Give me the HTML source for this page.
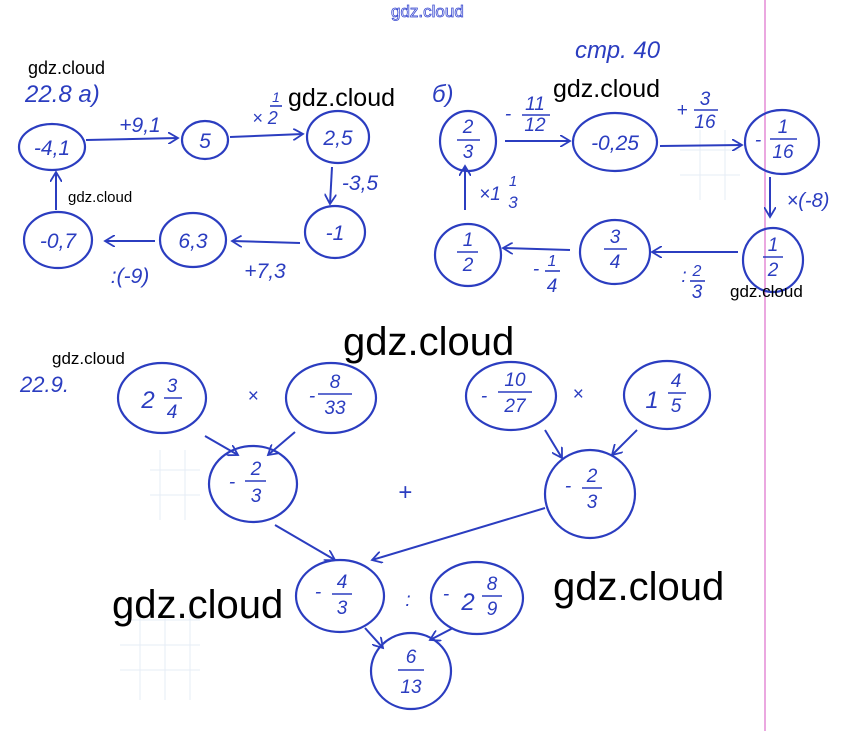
<!DOCTYPE html>
<html><head><meta charset="utf-8"><style>
html,body{margin:0;padding:0;background:#fff;}
svg{display:block}
.h{font-family:"Liberation Sans",sans-serif;font-style:italic;fill:#2b3dc0;}
.w{font-family:"Liberation Sans",sans-serif;fill:#000;}
</style></head><body>
<svg width="856" height="731" viewBox="0 0 856 731" xmlns="http://www.w3.org/2000/svg">
<defs><marker id="a" markerWidth="12" markerHeight="12" refX="10" refY="6" orient="auto" markerUnits="userSpaceOnUse"><path d="M0,0 L10,6 L0,12" fill="none" stroke="#2b3dc0" stroke-width="1.8"/></marker></defs>
<rect width="856" height="731" fill="#fff"/>
<g stroke="#e6ecf6" stroke-width="1" fill="none">
<path d="M120 620 H200 M120 645 H200 M120 670 H200 M140 600 V700 M165 600 V700 M190 600 V700"/>
<path d="M680 150 H740 M680 175 H740 M700 130 V200 M725 130 V200"/>
<path d="M150 470 H200 M150 495 H200 M160 450 V520 M185 450 V520"/>
</g>
<line x1="765" y1="0" x2="765" y2="731" stroke="#e07ad0" stroke-width="1.3"/>
<text x="391" y="17" class="w" font-size="17" style="fill:none" stroke="#3a4ad0" stroke-width="0.8">gdz.cloud</text>
<g class="h" font-size="24">
<text x="575" y="58">стр. 40</text>
<text x="25" y="102">22.8  a)</text>
<text x="432" y="102">б)</text>
<text x="20" y="392" font-size="22">22.9.</text>
</g>
<g fill="none" stroke="#2b3dc0" stroke-width="2.2">
<ellipse cx="52" cy="147" rx="33" ry="23"/>
<ellipse cx="205" cy="140" rx="23" ry="19"/>
<ellipse cx="338" cy="137" rx="31" ry="26"/>
<ellipse cx="335" cy="232" rx="30" ry="26"/>
<ellipse cx="193" cy="240" rx="33" ry="27"/>
<ellipse cx="58" cy="240" rx="34" ry="28"/>
<ellipse cx="468" cy="141" rx="28" ry="30"/>
<ellipse cx="615" cy="142" rx="42" ry="29"/>
<ellipse cx="782" cy="142" rx="37" ry="32"/>
<ellipse cx="773" cy="260" rx="30" ry="32"/>
<ellipse cx="615" cy="252" rx="35" ry="32"/>
<ellipse cx="468" cy="255" rx="33" ry="31"/>
<ellipse cx="162" cy="398" rx="44" ry="35"/>
<ellipse cx="331" cy="398" rx="45" ry="35"/>
<ellipse cx="511" cy="396" rx="45" ry="34"/>
<ellipse cx="667" cy="395" rx="43" ry="34"/>
<ellipse cx="253" cy="484" rx="44" ry="38"/>
<ellipse cx="590" cy="494" rx="45" ry="44"/>
<ellipse cx="340" cy="596" rx="44" ry="36"/>
<ellipse cx="477" cy="598" rx="46" ry="36"/>
<ellipse cx="411" cy="671" rx="40" ry="38"/>
</g>
<g stroke="#2b3dc0" stroke-width="2" fill="none" marker-end="url(#a)">
<line x1="86" y1="140" x2="178" y2="138"/>
<line x1="230" y1="137" x2="303" y2="134"/>
<line x1="332" y1="167" x2="330" y2="204"/>
<line x1="300" y1="243" x2="232" y2="241"/>
<line x1="155" y1="241" x2="105" y2="241"/>
<line x1="56" y1="210" x2="56" y2="172"/>
<line x1="505" y1="141" x2="570" y2="141"/>
<line x1="660" y1="146" x2="742" y2="145"/>
<line x1="770" y1="177" x2="770" y2="217"/>
<line x1="738" y1="252" x2="652" y2="252"/>
<line x1="570" y1="250" x2="503" y2="248"/>
<line x1="465" y1="210" x2="465" y2="166"/>
<line x1="205" y1="436" x2="238" y2="455"/>
<line x1="295" y1="432" x2="268" y2="455"/>
<line x1="545" y1="430" x2="562" y2="458"/>
<line x1="637" y1="430" x2="612" y2="455"/>
<line x1="275" y1="525" x2="335" y2="560"/>
<line x1="545" y1="508" x2="372" y2="560"/>
<line x1="365" y1="628" x2="383" y2="648"/>
<line x1="453" y1="628" x2="430" y2="640"/>
</g>
<g class="h" font-size="21" text-anchor="middle">
<text x="52" y="155">-4,1</text>
<text x="205" y="148">5</text>
<text x="338" y="145">2,5</text>
<text x="335" y="240">-1</text>
<text x="193" y="248">6,3</text>
<text x="58" y="248">-0,7</text>
<text x="140" y="132">+9,1</text>
<text x="265" y="124" font-size="18">× 2</text>
<text x="276" y="102" font-size="14">1</text>
<text x="360" y="190">-3,5</text>
<text x="265" y="278">+7,3</text>
<text x="130" y="283">:(-9)</text>
<text x="615" y="150">-0,25</text>
<text x="808" y="207" font-size="20">×(-8)</text>
</g>
<g class="h" font-size="19" text-anchor="middle">
<text x="468" y="133">2</text><text x="468" y="158">3</text>
<text x="535" y="110">11</text><text x="535" y="131">12</text><text x="508" y="120">-</text>
<text x="705" y="105">3</text><text x="705" y="128">16</text><text x="682" y="116">+</text>
<text x="783" y="133">1</text><text x="783" y="158">16</text><text x="758" y="146">-</text>
<text x="773" y="251">1</text><text x="773" y="276">2</text>
<text x="615" y="243">3</text><text x="615" y="268">4</text>
<text x="468" y="246">1</text><text x="468" y="271">2</text>
<text x="490" y="200">×1</text><text x="513" y="186" font-size="15">1</text><text x="513" y="208" font-size="17">3</text>
<text x="536" y="275">-</text><text x="552" y="266" font-size="16">1</text><text x="552" y="292">4</text>
<text x="684" y="282">:</text><text x="697" y="276" font-size="16">2</text><text x="697" y="298">3</text>
<text x="148" y="408" font-size="24">2</text><text x="172" y="392">3</text><text x="172" y="418">4</text>
<text x="312" y="402">-</text><text x="335" y="388">8</text><text x="335" y="414">33</text>
<text x="484" y="402">-</text><text x="515" y="386">10</text><text x="515" y="412">27</text>
<text x="652" y="408" font-size="24">1</text><text x="676" y="387">4</text><text x="676" y="412">5</text>
<text x="232" y="488">-</text><text x="256" y="475">2</text><text x="256" y="502">3</text>
<text x="568" y="492">-</text><text x="592" y="482">2</text><text x="592" y="508">3</text>
<text x="318" y="598">-</text><text x="342" y="588">4</text><text x="342" y="614">3</text>
<text x="446" y="600">-</text><text x="468" y="610" font-size="24">2</text><text x="492" y="590">8</text><text x="492" y="615">9</text>
<text x="411" y="663">6</text><text x="411" y="693">13</text>
<text x="253" y="402">×</text><text x="578" y="400">×</text>
<text x="405" y="500" font-size="24">+</text><text x="408" y="606">:</text>
</g>
<g stroke="#2b3dc0" stroke-width="1.6">
<line x1="457" y1="140" x2="480" y2="140"/>
<line x1="522" y1="115" x2="550" y2="115"/>
<line x1="694" y1="110" x2="718" y2="110"/>
<line x1="770" y1="139" x2="797" y2="139"/>
<line x1="763" y1="257" x2="783" y2="257"/>
<line x1="604" y1="249" x2="627" y2="249"/>
<line x1="457" y1="252" x2="478" y2="252"/>
<line x1="545" y1="271" x2="560" y2="271"/>
<line x1="690" y1="281" x2="705" y2="281"/>
<line x1="164" y1="398" x2="182" y2="398"/>
<line x1="318" y1="394" x2="352" y2="394"/>
<line x1="498" y1="392" x2="532" y2="392"/>
<line x1="668" y1="393" x2="686" y2="393"/>
<line x1="245" y1="481" x2="266" y2="481"/>
<line x1="582" y1="488" x2="602" y2="488"/>
<line x1="332" y1="594" x2="352" y2="594"/>
<line x1="482" y1="596" x2="502" y2="596"/>
<line x1="398" y1="670" x2="424" y2="670"/>
<line x1="270" y1="106" x2="282" y2="106"/>
</g>
<g class="w">
<text x="28" y="74" font-size="18">gdz.cloud</text>
<text x="288" y="106" font-size="25">gdz.cloud</text>
<text x="68" y="202" font-size="15">gdz.cloud</text>
<text x="553" y="97" font-size="25">gdz.cloud</text>
<text x="730" y="297" font-size="17">gdz.cloud</text>
<text x="343" y="355" font-size="40">gdz.cloud</text>
<text x="52" y="364" font-size="17">gdz.cloud</text>
<text x="112" y="618" font-size="40">gdz.cloud</text>
<text x="553" y="600" font-size="40">gdz.cloud</text>
</g>
</svg>
</body></html>
